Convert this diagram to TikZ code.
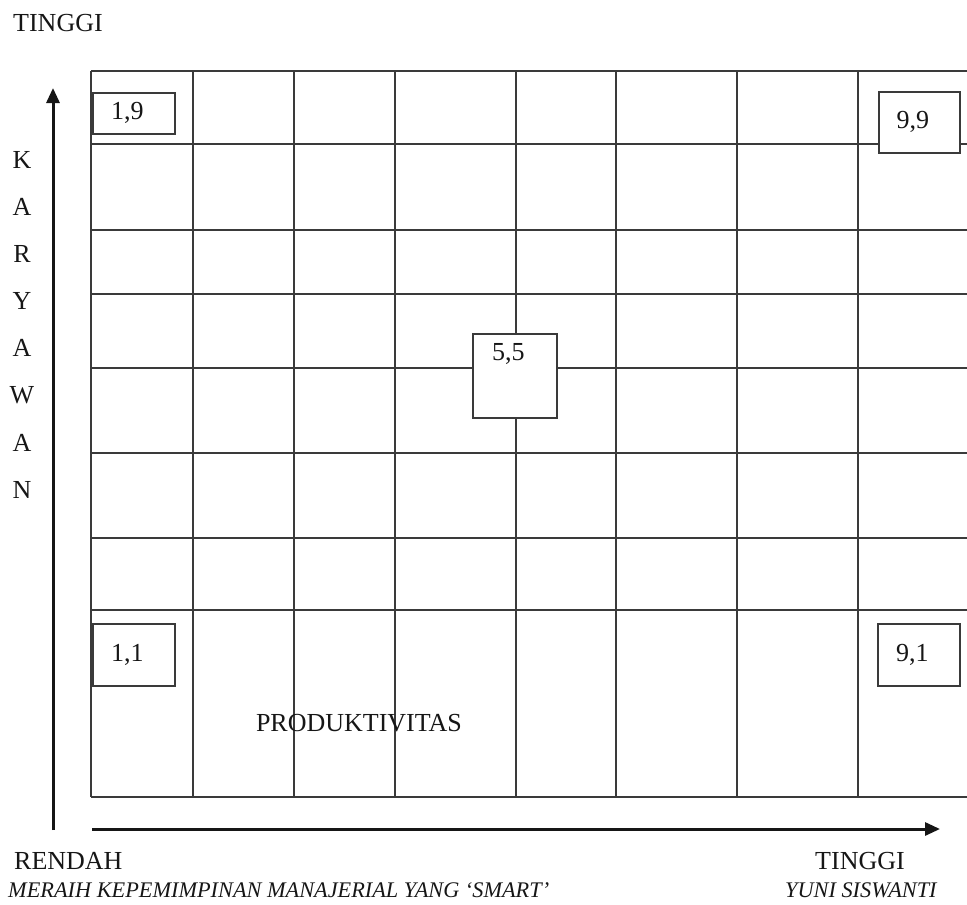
\documentclass[tikz,border=0pt]{standalone}
\usepackage{fontspec}
\setmainfont{Liberation Serif}
\usepackage{xcolor}
\definecolor{gridink}{HTML}{3A3A3A}
\definecolor{inkdark}{HTML}{161616}
\usepackage{tikz}
\usetikzlibrary{positioning,arrows.meta}

\begin{document}
\begin{tikzpicture}[x=1pt, y=-1pt, font=\fontsize{26}{30}\selectfont, text=inkdark,
  cellbox/.style={draw=gridink, fill=white, line width=1.6pt, inner sep=0pt, anchor=north west,
    execute at begin node=\hspace*{-13pt}},
  plainlabel/.style={inner sep=0pt, anchor=base west}]
  \useasboundingbox (0,0) rectangle (967,905);
  % Grid
  \foreach \x in {91,193,294,395,516,616,737,858}
    \draw[gridink, line width=1.8pt] (\x,71) -- (\x,797);
  \foreach \y in {71,144,230,294,368,453,538,610,797}
    \draw[gridink, line width=1.8pt] (91,\y) -- (967,\y);
  % Score boxes
  \node[cellbox, minimum width=82pt, minimum height=41pt] (b19) at (92,92) {1,9};
  \node[cellbox, minimum width=81pt, minimum height=61pt] (b99) at (878,91) {9,9};
  \node[cellbox, minimum width=84pt, text height=18pt, text depth=49pt, inner ysep=8.5pt] (b55) at (472,333) {5,5};
  \node[cellbox, minimum width=82pt, minimum height=62pt] (b11) at (92,623) {1,1};
  \node[cellbox, minimum width=82pt, minimum height=62pt] (b91) at (877,623) {9,1};
  % Axes
  \coordinate (ybot) at (53,830);
  \coordinate (ytop) at (53,88);
  \coordinate (xleft) at (92,829);
  \coordinate (xright) at (940,829);
  \draw[inkdark, line width=3pt, -{Triangle[length=15pt,width=13pt]}] (ybot) -- (ytop);
  \draw[inkdark, line width=3pt, -{Triangle[length=15pt,width=13pt]}] (xleft) -- (xright);
  % Axis labels
  \node[plainlabel] (hightop) at (13,31) {TINGGI};
  \foreach \c [count=\i from 0] in {K,A,R,Y,A,W,A,N}
    \node[inner sep=0pt] (kar\i) at (22,{160+47.1*\i}) {\c};
  \node[plainlabel] (low) at (14,869) {RENDAH};
  \node[plainlabel] (highright) at (815,869) {TINGGI};
  \node[inner sep=0pt, anchor=base] (prod) at (359,731) {PRODUKTIVITAS};
  % Footer
  \node[plainlabel, font=\fontsize{22.3}{25}\selectfont\itshape] (book) at (8,897)
    {MERAIH KEPEMIMPINAN MANAJERIAL YANG ‘SMART’};
  \node[plainlabel, font=\fontsize{22.3}{25}\selectfont\itshape] (author) at (785,897)
    {YUNI SISWANTI};
\end{tikzpicture}
\end{document}
